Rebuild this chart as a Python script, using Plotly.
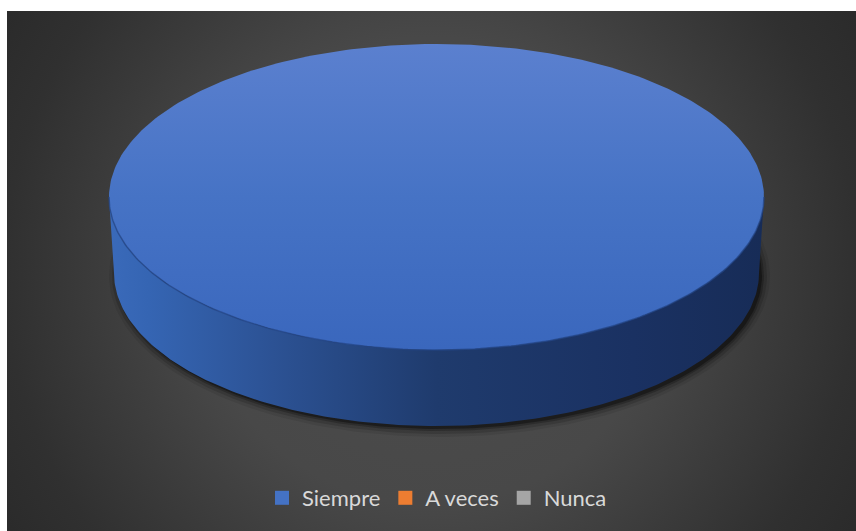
import numpy as np
import plotly.graph_objects as go

# ---- data ----
categories = ["Siempre", "A veces", "Nunca"]
values = [100, 0, 0]
colors = ["#4472C4", "#ED7D31", "#A5A5A5"]

# ---- layout geometry (pixel space) ----
W, H = 856, 531
LEFT, TOP = 7, 11                 # white border around the chart area
CX, CY = 436.5, 197.0             # centre of the top face
RX, RY = 327.5, 153.0             # radii of the top face
RX_BOT = RX - 5                   # bottom rim is slightly narrower (perspective)
DEPTH = 76                        # thickness of the pie


def top_xy(t, rx=RX, ry=RY, cy=CY):
    # t = 0 at 12 o'clock, increasing clockwise (screen y grows downward)
    return CX + rx * np.sin(t), cy - ry * np.cos(t)


fig = go.Figure()

# background: radial grey gradient
bg_t = np.linspace(0, 2 * np.pi, 181)
BGX, BGY, BGR = 431, 271, 520
fig.add_trace(go.Scatter(
    x=BGX + BGR * np.cos(bg_t), y=BGY + BGR * np.sin(bg_t),
    mode="lines", line=dict(width=0), fill="toself",
    fillgradient=dict(type="radial", colorscale=[
        [0.0, "#4d4d4d"], [0.45, "#484848"], [0.5, "#454545"],
        [0.65, "#3b3b3b"], [0.82, "#303030"], [1.0, "#292929"]]),
    hoverinfo="skip", showlegend=False))

total = float(sum(values))
angles = np.cumsum([0.0] + [v / total * 2 * np.pi for v in values])

# soft shadow under the pie
for k, a in [(8, 0.08), (5, 0.14), (2, 0.22), (0, 0.35)]:
    t = np.linspace(0, 2 * np.pi, 241)
    sx, sy = top_xy(t, RX_BOT + k, RY + k, CY + DEPTH)
    fig.add_trace(go.Scatter(
        x=sx + 3, y=sy + 3, mode="lines", line=dict(width=0), fill="toself",
        fillcolor=f"rgba(0,0,0,{a})", hoverinfo="skip", showlegend=False))

for i, v in enumerate(values):
    if v <= 0:
        continue
    t0, t1 = angles[i], angles[i + 1]

    # front wall: the part of the rim facing the viewer (pi/2 .. 3pi/2)
    a, b = max(t0, np.pi / 2), min(t1, 3 * np.pi / 2)
    if b > a:
        t = np.linspace(a, b, 200)
        ux, uy = top_xy(t)
        lx, ly = top_xy(t[::-1], RX_BOT, RY, CY + DEPTH)
        fig.add_trace(go.Scatter(
            x=np.concatenate([ux, lx]), y=np.concatenate([uy, ly]),
            mode="lines", line=dict(width=0), fill="toself",
            fillgradient=dict(type="horizontal", colorscale=[
                [0.0, "#3a6aba"], [0.06, "#3565b3"], [0.25, "#2c5294"],
                [0.5, "#1f3b6d"], [0.8, "#1a3162"], [1.0, "#172c57"]]),
            hoverinfo="skip", showlegend=False))

    # top face (lighter toward the back edge)
    t = np.linspace(t0, t1, 360)
    tx, ty = top_xy(t)
    if t1 - t0 < 2 * np.pi - 1e-9:
        tx = np.concatenate([[CX], tx, [CX]])
        ty = np.concatenate([[CY], ty, [CY]])
    fig.add_trace(go.Scatter(
        x=tx, y=ty, mode="lines", line=dict(width=0), fill="toself",
        fillgradient=dict(type="vertical", colorscale=[
            [0.0, "#3a67bd"], [0.5, "#4673c5"], [1.0, "#5b80cf"]]),
        hoverinfo="skip", showlegend=False))

    # rim edge between top face and wall
    if b > a:
        t = np.linspace(a, b, 200)
        ex, ey = top_xy(t)
        fig.add_trace(go.Scatter(
            x=ex, y=ey, mode="lines",
            line=dict(color="rgba(35,70,135,0.7)", width=1.5),
            hoverinfo="skip", showlegend=False))

# legend entries
for name, c in zip(categories, colors):
    fig.add_trace(go.Scatter(
        x=[None], y=[None], mode="markers", name=name,
        marker=dict(symbol="square", size=14, color=c, line=dict(width=0))))

fig.update_layout(
    width=W, height=H,
    margin=dict(l=LEFT, r=0, t=TOP, b=0),
    paper_bgcolor="white", plot_bgcolor="#2a2a2a",
    xaxis=dict(range=[LEFT, W], visible=False, fixedrange=True),
    yaxis=dict(range=[H, TOP], visible=False, fixedrange=True),
    showlegend=True,
    legend=dict(orientation="h", x=(437 - LEFT) / (W - LEFT), xanchor="center",
                y=(H - 498) / (H - TOP), yanchor="middle",
                bgcolor="rgba(0,0,0,0)",
                font=dict(family="Lato, Noto Sans, sans-serif", size=22, color="#d9d9d9"),
                itemclick=False, itemdoubleclick=False),
)

fig.write_html("out.html")
